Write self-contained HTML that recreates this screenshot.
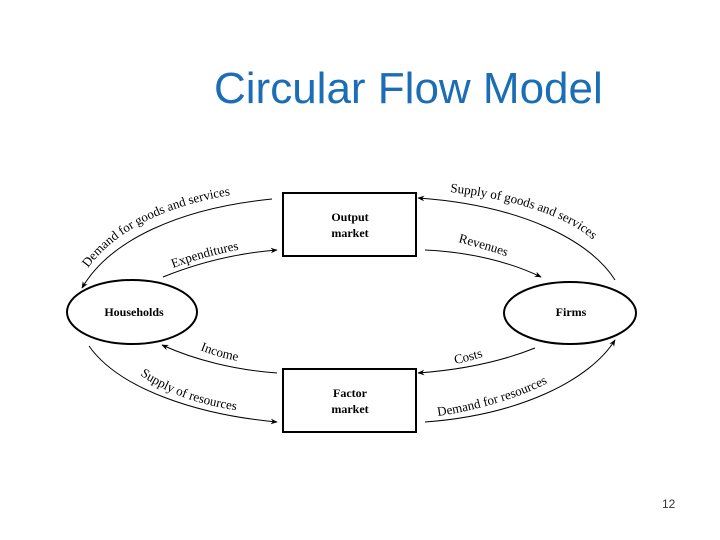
<!DOCTYPE html>
<html><head><style>
body{margin:0;width:720px;height:540px;background:#fff;overflow:hidden;position:relative;font-family:"Liberation Sans",sans-serif}
.t{position:absolute;left:214px;top:64px;font-size:44px;color:#1b6db5;white-space:nowrap}
.n{position:absolute;left:662px;top:497px;font-size:12px;color:#333}
</style></head><body>
<div class="t">Circular Flow Model</div>
<div class="n">12</div>
<svg width="720" height="540" style="position:absolute;left:0;top:0" font-family="Liberation Serif,serif">
<defs><marker id="a" viewBox="0 0 10 10" refX="9" refY="5" markerWidth="7" markerHeight="7" orient="auto"><path d="M0,1 L10,5 L0,9 L3,5z" fill="#000"/></marker></defs>
<g fill="none" stroke="#000" stroke-width="2">
<rect x="283" y="193" width="133" height="63"/>
<rect x="283" y="369" width="133" height="63"/>
<ellipse cx="132" cy="312" rx="65" ry="32"/>
<ellipse cx="570" cy="313" rx="66" ry="31"/>
</g>
<g fill="none" stroke="#000" stroke-width="1" marker-end="url(#a)">
<path d="M272,199 C180,208 110,240 82,288"/>
<path d="M163,277 C200,262 240,253 277,250"/>
<path d="M277,373 C235,370 195,360 162,345"/>
<path d="M89,346 C120,390 200,415 277,422"/>
<path d="M615,280 C590,240 520,205 418,198"/>
<path d="M425,250 C470,252 510,262 541,277"/>
<path d="M535,348 C500,362 460,370 418,373"/>
<path d="M425,422 C520,415 590,380 615,340"/>
</g>
<path id="q1" d="M88,268 C120,225 180,198 270,190" fill="none"/>
<path id="q2" d="M173,268 C205,256 240,248 277,244" fill="none"/>
<path id="q5" d="M450,192 C520,200 585,220 605,255" fill="none"/>
<path id="q6" d="M458,242 C480,248 500,253 520,262" fill="none"/>
<path id="q7" d="M455,364 C470,361 480,358 490,354" fill="none"/>
<path id="q8" d="M438,416 C480,410 530,395 560,376" fill="none"/>
<path id="q3" d="M200,350 C215,356 230,360 245,362" fill="none"/>
<path id="q4" d="M140,375 C170,396 210,408 250,412" fill="none"/>
<g font-size="13" fill="#000">
<text><textPath href="#q1">Demand for goods and services</textPath></text>
<text><textPath href="#q2">Expenditures</textPath></text>
<text><textPath href="#q5">Supply of goods and services</textPath></text>
<text><textPath href="#q6">Revenues</textPath></text>
<text><textPath href="#q7">Costs</textPath></text>
<text><textPath href="#q8">Demand for resources</textPath></text>
<text><textPath href="#q3">Income</textPath></text>
<text><textPath href="#q4">Supply of resources</textPath></text>
</g>
<g font-size="12" font-weight="bold" text-anchor="middle">
<text x="350" y="221">Output</text><text x="350" y="237">market</text>
<text x="350" y="397">Factor</text><text x="350" y="413">market</text>
<text x="134" y="316">Households</text>
<text x="571" y="316">Firms</text>
</g>
</svg>
</body></html>
